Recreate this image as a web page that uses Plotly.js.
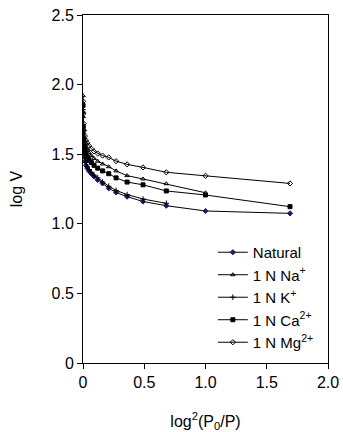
<!DOCTYPE html>
<html>
<head>
<meta charset="utf-8">
<script src="https://cdn.plot.ly/plotly-3.0.1.min.js"></script>
<style>html,body{margin:0;padding:0;background:#fff;}#chart{width:343px;height:432px;}</style>
</head>
<body>
<div id="chart"></div>
<script>
// x = log^2(P0/P)
const xVals = [1.69, 1.0, 0.68, 0.49, 0.36, 0.27, 0.21, 0.16, 0.12, 0.09, 0.068, 0.049, 0.035, 0.024, 0.016, 0.009, 0.005, 0.002, 0.0005];
const naturalY = [1.075, 1.092, 1.13, 1.16, 1.195, 1.225, 1.255, 1.29, 1.315, 1.34, 1.36, 1.38, 1.40, 1.42, 1.45, 1.49, 1.55, 1.65, 1.80];
const naY = [null, 1.223, 1.288, 1.322, 1.346, 1.38, 1.41, 1.43, 1.45, 1.47, 1.49, 1.51, 1.53, 1.55, 1.58, 1.62, 1.68, 1.77, 1.92];
const kY = [null, null, 1.147, 1.178, 1.21, 1.24, 1.27, 1.30, 1.33, 1.35, 1.37, 1.39, 1.41, 1.44, 1.47, 1.51, 1.57, 1.67, 1.82];
const caY = [1.123, 1.207, 1.236, 1.28, 1.30, 1.33, 1.36, 1.38, 1.40, 1.42, 1.44, 1.46, 1.48, 1.50, 1.53, 1.56, 1.61, 1.70, 1.85];
const mgY = [1.29, 1.345, 1.37, 1.405, 1.427, 1.45, 1.477, 1.49, 1.505, 1.52, 1.54, 1.56, 1.58, 1.60, 1.63, 1.67, 1.72, 1.79, 1.88];

const seriesNames = ['Natural', '1 N Na<sup>+</sup>', '1 N K<sup>+</sup>', '1 N Ca<sup>2+</sup>', '1 N Mg<sup>2+</sup>'];
const tickVals = [0, 0.5, 1.0, 1.5, 2.0];
const xTickText = ['0', '0.5', '1.0', '1.5', '2.0'];
const yTickVals = [0, 0.5, 1.0, 1.5, 2.0, 2.5];
const yTickText = ['0', '0.5', '1.0', '1.5', '2.0', '2.5'];

const ys = [naturalY, naY, kY, caY, mgY];
const symbols = ['diamond', 'triangle-up-open', 'cross-thin-open', 'square', 'diamond-open'];
const mcolors = ['#1c1c6e', '#000', '#000', '#000', '#000'];

const traces = ys.map((y, i) => ({
  x: xVals, y: y, name: seriesNames[i], type: 'scatter', mode: 'lines+markers',
  line: {color: '#000', width: 1},
  marker: {symbol: symbols[i], size: 4, color: mcolors[i], line: {color: mcolors[i], width: 1}},
  connectgaps: false
}));

const font = {family: 'Liberation Sans, Arial, sans-serif', size: 16, color: '#000'};
const layout = {
  width: 343, height: 432,
  margin: {l: 83, r: 15, t: 15, b: 69},
  paper_bgcolor: '#fff', plot_bgcolor: '#fff',
  font: font,
  showlegend: true,
  legend: {x: 0.53, y: 0.365, xanchor: 'left', yanchor: 'top', bgcolor: 'rgba(0,0,0,0)',
           font: {family: font.family, size: 15, color: '#000'}, tracegroupgap: 0, itemwidth: 30},
  xaxis: {range: [0, 2.0], tickvals: tickVals, ticktext: xTickText, showgrid: false, zeroline: false,
          showline: true, linecolor: '#000', linewidth: 1, mirror: true, ticks: 'outside', ticklen: 5,
          tickcolor: '#000', title: {text: 'log<sup>2</sup>(P<sub>0</sub>/P)', font: font, standoff: 28}},
  yaxis: {range: [0, 2.5], tickvals: yTickVals, ticktext: yTickText, showgrid: false, zeroline: false,
          showline: true, linecolor: '#000', linewidth: 1, mirror: true, ticks: 'outside', ticklen: 5,
          tickcolor: '#000', title: {text: 'log V', font: font, standoff: 24}}
};
Plotly.newPlot('chart', traces, layout, {displayModeBar: false, staticPlot: true});
</script>
</body>
</html>
